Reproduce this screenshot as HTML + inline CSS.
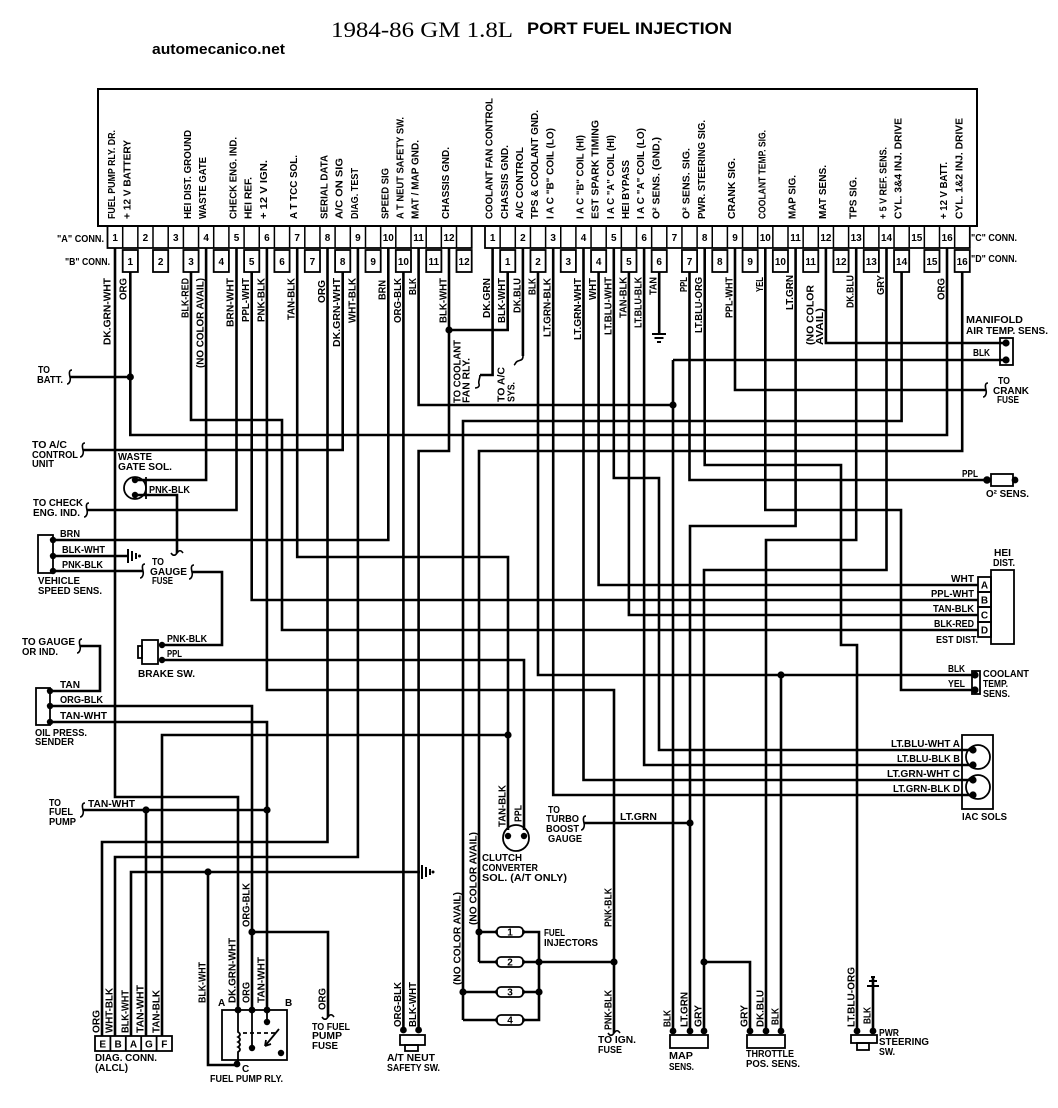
<!DOCTYPE html>
<html><head><meta charset="utf-8">
<style>
html,body{margin:0;padding:0;background:#fff;}
svg{display:block;}
text{font-family:"Liberation Sans",sans-serif;font-weight:bold;fill:#000;font-size:10px;}
.v{font-size:10.5px;}
.w{stroke:#000;stroke-width:2.6;fill:none;stroke-linejoin:miter;stroke-linecap:butt;}
.t{stroke:#000;stroke-width:1.6;fill:none;}
.b{stroke:#000;stroke-width:1.8;fill:#fff;}
.n{font-size:10px;text-anchor:middle;}
</style></head><body>
<svg width="1058" height="1108" viewBox="0 0 1058 1108" xmlns="http://www.w3.org/2000/svg">
<rect x="0" y="0" width="1058" height="1108" fill="#fff"/>

<!-- Titles -->
<text x="331" y="37" style="font-family:'Liberation Serif',serif;font-weight:normal;font-size:22px" textLength="182" lengthAdjust="spacingAndGlyphs">1984-86 GM 1.8L</text>
<text x="527" y="34" style="font-size:17px" textLength="205" lengthAdjust="spacingAndGlyphs">PORT FUEL INJECTION</text>
<text x="152" y="54" style="font-size:15px" textLength="133" lengthAdjust="spacingAndGlyphs">automecanico.net</text>

<!-- ECM box -->
<rect x="98" y="89" width="879" height="137" fill="none" stroke="#000" stroke-width="2"/>

<!-- Top labels -->
<g class="v">
<text transform="translate(115,219) rotate(-90)" textLength="89" lengthAdjust="spacingAndGlyphs">FUEL PUMP RLY. DR.</text>
<text transform="translate(130.5,219) rotate(-90)" textLength="79" lengthAdjust="spacingAndGlyphs">+ 12 V BATTERY</text>
<text transform="translate(191,219) rotate(-90)" textLength="89" lengthAdjust="spacingAndGlyphs">HEI DIST. GROUND</text>
<text transform="translate(206.2,219) rotate(-90)" textLength="62" lengthAdjust="spacingAndGlyphs">WASTE GATE</text>
<text transform="translate(236.5,219) rotate(-90)" textLength="82" lengthAdjust="spacingAndGlyphs">CHECK ENG. IND.</text>
<text transform="translate(251.7,219) rotate(-90)" textLength="42" lengthAdjust="spacingAndGlyphs">HEI REF.</text>
<text transform="translate(267,219) rotate(-90)" textLength="59" lengthAdjust="spacingAndGlyphs">+ 12 V IGN.</text>
<text transform="translate(297.2,219) rotate(-90)" textLength="64" lengthAdjust="spacingAndGlyphs">A  T TCC SOL.</text>
<text transform="translate(327.5,219) rotate(-90)" textLength="64" lengthAdjust="spacingAndGlyphs">SERIAL DATA</text>
<text transform="translate(342.7,219) rotate(-90)" textLength="61" lengthAdjust="spacingAndGlyphs">A/C ON SIG</text>
<text transform="translate(358,219) rotate(-90)" textLength="51" lengthAdjust="spacingAndGlyphs">DIAG. TEST</text>
<text transform="translate(388.3,219) rotate(-90)" textLength="51" lengthAdjust="spacingAndGlyphs">SPEED SIG</text>
<text transform="translate(403.5,219) rotate(-90)" textLength="102" lengthAdjust="spacingAndGlyphs">A  T NEUT SAFETY SW.</text>
<text transform="translate(418.7,219) rotate(-90)" textLength="79" lengthAdjust="spacingAndGlyphs">MAT / MAP GND.</text>
<text transform="translate(449,219) rotate(-90)" textLength="72" lengthAdjust="spacingAndGlyphs">CHASSIS GND.</text>
<text transform="translate(492.7,219) rotate(-90)" textLength="121" lengthAdjust="spacingAndGlyphs">COOLANT FAN CONTROL</text>
<text transform="translate(507.8,219) rotate(-90)" textLength="74" lengthAdjust="spacingAndGlyphs">CHASSIS GND.</text>
<text transform="translate(523,219) rotate(-90)" textLength="72" lengthAdjust="spacingAndGlyphs">A/C CONTROL</text>
<text transform="translate(538.1,219) rotate(-90)" textLength="109" lengthAdjust="spacingAndGlyphs">TPS &amp; COOLANT GND.</text>
<text transform="translate(553.3,219) rotate(-90)" textLength="91" lengthAdjust="spacingAndGlyphs">I A C "B" COIL (LO)</text>
<text transform="translate(583.6,219) rotate(-90)" textLength="84" lengthAdjust="spacingAndGlyphs">I A C "B" COIL (HI)</text>
<text transform="translate(598.7,219) rotate(-90)" textLength="99" lengthAdjust="spacingAndGlyphs">EST SPARK TIMING</text>
<text transform="translate(613.9,219) rotate(-90)" textLength="84" lengthAdjust="spacingAndGlyphs">I A C "A" COIL (HI)</text>
<text transform="translate(629,219) rotate(-90)" textLength="59" lengthAdjust="spacingAndGlyphs">HEI BYPASS</text>
<text transform="translate(644.2,219) rotate(-90)" textLength="91" lengthAdjust="spacingAndGlyphs">I A C "A" COIL (LO)</text>
<text transform="translate(659.3,219) rotate(-90)" textLength="82" lengthAdjust="spacingAndGlyphs">O² SENS. (GND.)</text>
<text transform="translate(689.6,219) rotate(-90)" textLength="71" lengthAdjust="spacingAndGlyphs">O² SENS. SIG.</text>
<text transform="translate(704.8,219) rotate(-90)" textLength="99" lengthAdjust="spacingAndGlyphs">PWR. STEERING SIG.</text>
<text transform="translate(735.1,219) rotate(-90)" textLength="61" lengthAdjust="spacingAndGlyphs">CRANK SIG.</text>
<text transform="translate(765.4,219) rotate(-90)" textLength="89" lengthAdjust="spacingAndGlyphs">COOLANT TEMP. SIG.</text>
<text transform="translate(795.7,219) rotate(-90)" textLength="44" lengthAdjust="spacingAndGlyphs">MAP SIG.</text>
<text transform="translate(826,219) rotate(-90)" textLength="54" lengthAdjust="spacingAndGlyphs">MAT SENS.</text>
<text transform="translate(856.3,219) rotate(-90)" textLength="42" lengthAdjust="spacingAndGlyphs">TPS SIG.</text>
<text transform="translate(886.6,219) rotate(-90)" textLength="72" lengthAdjust="spacingAndGlyphs">+ 5 V REF. SENS.</text>
<text transform="translate(901.7,219) rotate(-90)" textLength="101" lengthAdjust="spacingAndGlyphs">CYL. 3&amp;4 INJ. DRIVE</text>
<text transform="translate(947.2,219) rotate(-90)" textLength="57" lengthAdjust="spacingAndGlyphs">+ 12 V BATT.</text>
<text transform="translate(962.3,219) rotate(-90)" textLength="101" lengthAdjust="spacingAndGlyphs">CYL. 1&amp;2 INJ. DRIVE</text>
</g>

<!-- Connector A row (left) -->
<rect x="107.5" y="226" width="364.2" height="22" fill="none" stroke="#000" stroke-width="1.8"/>
<path stroke="#000" stroke-width="1.5" d="M122.7 226V248M137.85 226V248M153 226V248M168.2 226V248M183.4 226V248M198.55 226V248M213.7 226V248M228.9 226V248M244.1 226V248M259.25 226V248M274.4 226V248M289.6 226V248M304.8 226V248M319.95 226V248M335.1 226V248M350.3 226V248M365.5 226V248M380.65 226V248M395.8 226V248M411 226V248M426.2 226V248M441.35 226V248M456.5 226V248"/>
<g class="n">
<text x="115.1" y="241">1</text><text x="145.4" y="241">2</text><text x="175.8" y="241">3</text><text x="206.1" y="241">4</text><text x="236.5" y="241">5</text><text x="266.9" y="241">6</text><text x="297.2" y="241">7</text><text x="327.5" y="241">8</text><text x="357.9" y="241">9</text><text x="388.3" y="241">10</text><text x="418.6" y="241">11</text><text x="449" y="241">12</text>
</g>
<!-- B boxes -->
<g class="b">
<rect x="122.7" y="250" width="15.2" height="22"/><rect x="153" y="250" width="15.2" height="22"/><rect x="183.4" y="250" width="15.2" height="22"/><rect x="213.7" y="250" width="15.2" height="22"/><rect x="244.1" y="250" width="15.2" height="22"/><rect x="274.4" y="250" width="15.2" height="22"/><rect x="304.8" y="250" width="15.2" height="22"/><rect x="335.1" y="250" width="15.2" height="22"/><rect x="365.5" y="250" width="15.2" height="22"/><rect x="395.8" y="250" width="15.2" height="22"/><rect x="426.2" y="250" width="15.2" height="22"/><rect x="456.5" y="250" width="15.2" height="22"/>
</g>
<g class="n">
<text x="130.3" y="265">1</text><text x="160.6" y="265">2</text><text x="191" y="265">3</text><text x="221.3" y="265">4</text><text x="251.7" y="265">5</text><text x="282" y="265">6</text><text x="312.4" y="265">7</text><text x="342.7" y="265">8</text><text x="373.1" y="265">9</text><text x="403.4" y="265">10</text><text x="433.8" y="265">11</text><text x="464.1" y="265">12</text>
</g>

<!-- Connector C row (right) -->
<rect x="485" y="226" width="484.8" height="22" fill="none" stroke="#000" stroke-width="1.8"/>
<path stroke="#000" stroke-width="1.5" d="M500.15 226V248M515.3 226V248M530.45 226V248M545.6 226V248M560.75 226V248M575.9 226V248M591.05 226V248M606.2 226V248M621.35 226V248M636.5 226V248M651.65 226V248M666.8 226V248M681.95 226V248M697.1 226V248M712.25 226V248M727.4 226V248M742.55 226V248M757.7 226V248M772.85 226V248M788 226V248M803.15 226V248M818.3 226V248M833.45 226V248M848.6 226V248M863.75 226V248M878.9 226V248M894.05 226V248M909.2 226V248M924.35 226V248M939.5 226V248M954.65 226V248"/>
<g class="n">
<text x="492.6" y="241">1</text><text x="522.9" y="241">2</text><text x="553.2" y="241">3</text><text x="583.5" y="241">4</text><text x="613.8" y="241">5</text><text x="644.1" y="241">6</text><text x="674.4" y="241">7</text><text x="704.7" y="241">8</text><text x="735" y="241">9</text><text x="765.3" y="241">10</text><text x="795.6" y="241">11</text><text x="825.9" y="241">12</text><text x="856.2" y="241">13</text><text x="886.5" y="241">14</text><text x="916.8" y="241">15</text><text x="947.1" y="241">16</text>
</g>
<g class="b">
<rect x="500.15" y="250" width="15.15" height="22"/><rect x="530.45" y="250" width="15.15" height="22"/><rect x="560.75" y="250" width="15.15" height="22"/><rect x="591.05" y="250" width="15.15" height="22"/><rect x="621.35" y="250" width="15.15" height="22"/><rect x="651.65" y="250" width="15.15" height="22"/><rect x="681.95" y="250" width="15.15" height="22"/><rect x="712.25" y="250" width="15.15" height="22"/><rect x="742.55" y="250" width="15.15" height="22"/><rect x="772.85" y="250" width="15.15" height="22"/><rect x="803.15" y="250" width="15.15" height="22"/><rect x="833.45" y="250" width="15.15" height="22"/><rect x="863.75" y="250" width="15.15" height="22"/><rect x="894.05" y="250" width="15.15" height="22"/><rect x="924.35" y="250" width="15.15" height="22"/><rect x="954.65" y="250" width="15.15" height="22"/>
</g>
<g class="n">
<text x="507.7" y="265">1</text><text x="538" y="265">2</text><text x="568.3" y="265">3</text><text x="598.6" y="265">4</text><text x="628.9" y="265">5</text><text x="659.2" y="265">6</text><text x="689.5" y="265">7</text><text x="719.8" y="265">8</text><text x="750.1" y="265">9</text><text x="780.4" y="265">10</text><text x="810.7" y="265">11</text><text x="841" y="265">12</text><text x="871.3" y="265">13</text><text x="901.6" y="265">14</text><text x="931.9" y="265">15</text><text x="962.2" y="265">16</text>
</g>

<text x="57" y="242" textLength="47" lengthAdjust="spacingAndGlyphs">"A" CONN.</text>
<text x="65" y="265" textLength="45" lengthAdjust="spacingAndGlyphs">"B" CONN.</text>
<text x="971" y="241" textLength="46" lengthAdjust="spacingAndGlyphs">"C" CONN.</text>
<text x="971" y="262" textLength="46" lengthAdjust="spacingAndGlyphs">"D" CONN.</text>

<!-- WIRES -->
<g class="w">
<path d="M115 248V797H238V1010"/>
<path d="M130.3 272V435H947V248"/>
<path d="M70 377H130.3"/>
<path d="M191 272V420H282V630H978"/>
<path d="M206.1 248V480H137"/>
<path d="M236.5 248V510H87"/>
<path d="M251.7 272V600H978"/>
<path d="M266.9 248V690H614V1033"/>
<path d="M297.2 248V557H508V830"/>
<path d="M162 1036V735H508"/>
<path d="M327.5 248V842H102V1036"/>
<path d="M342.7 272V450H83"/>
<path d="M357.9 248V857H115V1036"/>
<path d="M388.3 248V540H53"/>
<path d="M403.4 272V1030"/>
<path d="M418.6 248V405H673"/>
<path d="M449 248V451H418.6V1030"/>
<path d="M131 1036V872H420"/>
<path d="M208 872V1065H238"/>
<path d="M83 810H267"/>
<path d="M146 810V1036"/>
<path d="M50 722H267V1010"/>
<path d="M50 706H252V1010"/>
<path d="M50 691H100V646H80"/>
<path d="M252 932H328V1017"/>
<path d="M53 556H127"/>
<path d="M53 571H143"/>
<path d="M137 495H177V553"/>
<path d="M162 645H222V572H192"/>
<path d="M162 660H524V830"/>

<path d="M492.6 248V375H480"/>
<path d="M507.7 272V330H449"/>
<path d="M522.9 248V356"/>
<path d="M538 272V675H972"/>
<path d="M781 675V1031"/>
<path d="M553.2 248V795H973"/>
<path d="M583.5 248V780H973"/>
<path d="M598.6 272V585H978"/>
<path d="M613.8 248V478H659V750H973"/>
<path d="M628.9 272V615H978"/>
<path d="M644.1 248V765H973"/>
<path d="M659.2 272V333"/>
<path d="M673 360V1031M673 360H1003"/>
<path d="M689.5 272V480H987"/>
<path d="M704.7 248V465H841V645H857V1031"/>
<path d="M735 248V390H986"/>
<path d="M765.3 248V510H901V690H972"/>
<path d="M795.6 248V526H690V1031"/>
<path d="M584 823H690"/>
<path d="M825.9 248V343H1003"/>
<path d="M856.2 248V540H766V1031"/>
<path d="M886.5 248V570H704V1031"/>
<path d="M704 962H750V1031"/>
<path d="M901.6 272V421H463V1020"/>
<path d="M962.2 272V451H479V962"/>
<path d="M479 932H497M479 962H497M463 992H497M463 1020H497"/>
<path d="M523 932H539V1020H523M523 962H539M523 992H539M539 962H614"/>
<path d="M873 976V1031"/>
</g>

<!-- dots -->
<g fill="#000">
<circle cx="130.3" cy="377" r="3.6"/><circle cx="449" cy="330" r="3.6"/><circle cx="673" cy="405" r="3.6"/>
<circle cx="508" cy="735" r="3.6"/><circle cx="146" cy="810" r="3.6"/><circle cx="267" cy="810" r="3.6"/>
<circle cx="208" cy="872" r="3.6"/><circle cx="252" cy="932" r="3.6"/><circle cx="781" cy="675" r="3.6"/>
<circle cx="690" cy="823" r="3.6"/><circle cx="704" cy="962" r="3.6"/><circle cx="614" cy="962" r="3.6"/>
<circle cx="479" cy="932" r="3.6"/><circle cx="463" cy="992" r="3.6"/><circle cx="539" cy="962" r="3.6"/><circle cx="539" cy="992" r="3.6"/>
<!-- connector pin dots -->
<circle cx="135" cy="480" r="3.2"/><circle cx="135" cy="495" r="3.2"/>
<circle cx="53" cy="540" r="3.2"/><circle cx="53" cy="556" r="3.2"/><circle cx="53" cy="571" r="3.2"/>
<circle cx="50" cy="691" r="3.2"/><circle cx="50" cy="706" r="3.2"/><circle cx="50" cy="722" r="3.2"/>
<circle cx="162" cy="645" r="3.2"/><circle cx="162" cy="660" r="3.2"/>
<circle cx="238" cy="1010" r="3.4"/><circle cx="252" cy="1010" r="3.4"/><circle cx="267" cy="1010" r="3.4"/><circle cx="237" cy="1064" r="3.4"/>
<circle cx="403.4" cy="1030" r="3.4"/><circle cx="418.6" cy="1030" r="3.4"/>
<circle cx="508" cy="836" r="3.2"/><circle cx="524" cy="836" r="3.2"/>
<circle cx="673" cy="1031" r="3.4"/><circle cx="690" cy="1031" r="3.4"/><circle cx="704" cy="1031" r="3.4"/>
<circle cx="750" cy="1031" r="3.4"/><circle cx="766" cy="1031" r="3.4"/><circle cx="781" cy="1031" r="3.4"/>
<circle cx="857" cy="1031" r="3.4"/><circle cx="873" cy="1031" r="3.4"/>
<circle cx="1006" cy="343" r="3.6"/><circle cx="1006" cy="360" r="3.6"/>
<circle cx="987" cy="480" r="3.8"/><circle cx="1015" cy="480" r="3.4"/>
<circle cx="975" cy="675" r="3.6"/><circle cx="975" cy="690" r="3.6"/>
<circle cx="973" cy="750" r="3.6"/><circle cx="973" cy="765" r="3.6"/><circle cx="973" cy="780" r="3.6"/><circle cx="973" cy="795" r="3.6"/>
<circle cx="498" cy="932" r="3"/><circle cx="522" cy="932" r="3"/><circle cx="498" cy="962" r="3"/><circle cx="522" cy="962" r="3"/>
<circle cx="498" cy="992" r="3"/><circle cx="522" cy="992" r="3"/><circle cx="498" cy="1020" r="3"/><circle cx="522" cy="1020" r="3"/>
</g>

<!-- break symbols -->
<g class="t" stroke-width="1.8">
<path d="M72 370c-3 0-3 3-2 7s-1 7-3 7"/>
<path d="M85 443c-3 0-3 3-2 7s-1 7-3 7"/>
<path d="M89 503c-3 0-3 3-2 7s-1 7-3 7"/>
<path d="M145 564c-3 0-3 3-2 7s-1 7-3 7"/>
<path d="M194 565c-3 0-3 3-2 7s-1 7-3 7"/>
<path d="M82 639c-3 0-3 3-2 7s-1 7-3 7"/>
<path d="M85 803c-3 0-3 3-2 7s-1 7-3 7"/>
<path d="M988 383c-3 0-3 3-2 7s-1 7-3 7"/>
<path d="M586 816c-3 0-3 3-2 7s-1 7-3 7"/>
<path d="M480 375c0 4-2 6-1 9s-2 4-4 4"/>
<path d="M523 356c0 4-2 4-5 5s-2 3-4 4"/>
<path d="M171 553c2 3 4 3 6 0s4-3 6 0"/>
<path d="M322 1017c2 3 4 3 6 0s4-3 6 0"/>
<path d="M608 1033c2 3 4 3 6 0s4-3 6 0"/>
</g>

<!-- ground symbols -->
<g stroke="#000" stroke-width="2" fill="none">
<path d="M128 549V563M132 551V561M136 553V559"/>
<path d="M422 865V879M426 867V877M430 869V875"/>
<path d="M652 334H666M654.5 338H663.5M657 342H661"/>
<path d="M867 986H879M869 981H877M871 977H875"/>
</g>
<circle cx="139.5" cy="556" r="1.5" fill="#000"/><circle cx="433" cy="872" r="1.5" fill="#000"/>

<!-- components -->
<g stroke="#000" stroke-width="1.8" fill="none">
<circle cx="135" cy="488" r="11"/><path d="M146 477V499"/>
<rect x="38" y="535" width="15" height="38"/>
<rect x="36" y="688" width="14" height="37"/>
<rect x="142" y="640" width="16" height="24"/><rect x="138" y="646" width="4" height="12"/>
<rect x="222" y="1010" width="65" height="50"/>
<rect x="95" y="1036" width="77" height="15"/>
<path d="M110.4 1036V1051M125.8 1036V1051M141.2 1036V1051M156.6 1036V1051"/>
<rect x="400" y="1035" width="25" height="10"/><rect x="405" y="1045" width="13" height="6"/>
<circle cx="516" cy="838" r="13"/>
<rect x="670" y="1035" width="38" height="13"/>
<rect x="747" y="1035" width="38" height="13"/>
<rect x="851" y="1035" width="26" height="8"/><rect x="857" y="1043" width="12" height="7"/>
<rect x="1000" y="338" width="13" height="27"/>
<rect x="991" y="474" width="22" height="12"/>
<rect x="978" y="577" width="13" height="15"/><rect x="978" y="592" width="13" height="15"/><rect x="978" y="607" width="13" height="15"/><rect x="978" y="622" width="13" height="15"/>
<rect x="991" y="570" width="23" height="74"/>
<rect x="972" y="671" width="8" height="23"/>
<rect x="962" y="735" width="31" height="74"/>
<circle cx="978" cy="757" r="12"/><circle cx="978" cy="787" r="12"/>
</g>
<!-- injectors -->
<g stroke="#000" stroke-width="1.8" fill="#fff">
<rect x="497" y="927" width="26" height="10" rx="4"/>
<rect x="497" y="957" width="26" height="10" rx="4"/>
<rect x="497" y="987" width="26" height="10" rx="4"/>
<rect x="497" y="1015" width="26" height="10" rx="4"/>
</g>
<g class="n" style="font-size:9px">
<text x="510" y="935.5">1</text><text x="510" y="965.5">2</text><text x="510" y="995.5">3</text><text x="510" y="1023.5">4</text>
</g>
<!-- relay interior -->
<g stroke="#000" stroke-width="1.8" fill="none">
<path d="M238 1010V1032q4 2.5 0 5q4 2.5 0 5q4 2.5 0 5q4 2.5 0 5V1063"/>
<path d="M252 1010V1048M267 1010V1022"/>
<path d="M243 1033H278" stroke-dasharray="4 3"/>
<path d="M279 1029L265 1046M265 1046l1-6M265 1046l6-2"/>
</g>
<g fill="#000"><circle cx="252" cy="1048" r="3.2"/><circle cx="267" cy="1022" r="3.2"/><circle cx="281" cy="1053" r="3.2"/></g>
<!-- diag letters -->
<g class="n"><text x="102.7" y="1047.5">E</text><text x="118.1" y="1047.5">B</text><text x="133.5" y="1047.5">A</text><text x="148.9" y="1047.5">G</text><text x="164.3" y="1047.5">F</text></g>
<!-- HEI letters -->
<g class="n"><text x="984.5" y="588.5">A</text><text x="984.5" y="603.5">B</text><text x="984.5" y="618.5">C</text><text x="984.5" y="633.5">D</text></g>

<!-- Vertical wire labels -->
<g class="v">
<text transform="translate(110.7,345) rotate(-90)" textLength="67" lengthAdjust="spacingAndGlyphs">DK.GRN-WHT</text>
<text transform="translate(126.7,300) rotate(-90)" textLength="22" lengthAdjust="spacingAndGlyphs">ORG</text>
<text transform="translate(188.5,318) rotate(-90)" textLength="40" lengthAdjust="spacingAndGlyphs">BLK-RED</text>
<text transform="translate(203.5,368) rotate(-90)" textLength="90" lengthAdjust="spacingAndGlyphs">(NO COLOR AVAIL)</text>
<text transform="translate(233.5,327) rotate(-90)" textLength="49" lengthAdjust="spacingAndGlyphs">BRN-WHT</text>
<text transform="translate(249,322) rotate(-90)" textLength="44" lengthAdjust="spacingAndGlyphs">PPL-WHT</text>
<text transform="translate(264.5,322) rotate(-90)" textLength="44" lengthAdjust="spacingAndGlyphs">PNK-BLK</text>
<text transform="translate(294.5,320) rotate(-90)" textLength="42" lengthAdjust="spacingAndGlyphs">TAN-BLK</text>
<text transform="translate(325,303) rotate(-90)" textLength="23" lengthAdjust="spacingAndGlyphs">ORG</text>
<text transform="translate(340.2,347) rotate(-90)" textLength="69" lengthAdjust="spacingAndGlyphs">DK.GRN-WHT</text>
<text transform="translate(355.5,323) rotate(-90)" textLength="45" lengthAdjust="spacingAndGlyphs">WHT-BLK</text>
<text transform="translate(385.5,300) rotate(-90)" textLength="20" lengthAdjust="spacingAndGlyphs">BRN</text>
<text transform="translate(400.9,323) rotate(-90)" textLength="45" lengthAdjust="spacingAndGlyphs">ORG-BLK</text>
<text transform="translate(416,295) rotate(-90)" textLength="17" lengthAdjust="spacingAndGlyphs">BLK</text>
<text transform="translate(446.5,323) rotate(-90)" textLength="45" lengthAdjust="spacingAndGlyphs">BLK-WHT</text>
<text transform="translate(460.7,403) rotate(-90)" textLength="63" lengthAdjust="spacingAndGlyphs">TO COOLANT</text>
<text transform="translate(469.7,403) rotate(-90)" textLength="45" lengthAdjust="spacingAndGlyphs">FAN RLY.</text>
<text transform="translate(490,318) rotate(-90)" textLength="40" lengthAdjust="spacingAndGlyphs">DK.GRN</text>
<text transform="translate(505.2,323) rotate(-90)" textLength="45" lengthAdjust="spacingAndGlyphs">BLK-WHT</text>
<text transform="translate(504.7,402) rotate(-90)" textLength="35" lengthAdjust="spacingAndGlyphs">TO A/C</text>
<text transform="translate(514.7,402) rotate(-90)" textLength="20" lengthAdjust="spacingAndGlyphs">SYS.</text>
<text transform="translate(520.5,313) rotate(-90)" textLength="35" lengthAdjust="spacingAndGlyphs">DK.BLU</text>
<text transform="translate(535.5,295) rotate(-90)" textLength="17" lengthAdjust="spacingAndGlyphs">BLK</text>
<text transform="translate(550.5,337) rotate(-90)" textLength="59" lengthAdjust="spacingAndGlyphs">LT.GRN-BLK</text>
<text transform="translate(581,340) rotate(-90)" textLength="62" lengthAdjust="spacingAndGlyphs">LT.GRN-WHT</text>
<text transform="translate(596,300) rotate(-90)" textLength="22" lengthAdjust="spacingAndGlyphs">WHT</text>
<text transform="translate(611.3,335) rotate(-90)" textLength="58" lengthAdjust="spacingAndGlyphs">LT.BLU-WHT</text>
<text transform="translate(626.5,318) rotate(-90)" textLength="41" lengthAdjust="spacingAndGlyphs">TAN-BLK</text>
<text transform="translate(641.5,328) rotate(-90)" textLength="51" lengthAdjust="spacingAndGlyphs">LT.BLU-BLK</text>
<text transform="translate(656.5,295) rotate(-90)" textLength="18" lengthAdjust="spacingAndGlyphs">TAN</text>
<text transform="translate(687,292) rotate(-90)" textLength="15" lengthAdjust="spacingAndGlyphs">PPL</text>
<text transform="translate(702.2,333) rotate(-90)" textLength="56" lengthAdjust="spacingAndGlyphs">LT.BLU-ORG</text>
<text transform="translate(732.5,318) rotate(-90)" textLength="41" lengthAdjust="spacingAndGlyphs">PPL-WHT</text>
<text transform="translate(762.8,292) rotate(-90)" textLength="15" lengthAdjust="spacingAndGlyphs">YEL</text>
<text transform="translate(793,310) rotate(-90)" textLength="35" lengthAdjust="spacingAndGlyphs">LT.GRN</text>
<text transform="translate(813.5,345) rotate(-90)" textLength="60" lengthAdjust="spacingAndGlyphs">(NO COLOR</text>
<text transform="translate(823,345) rotate(-90)" textLength="37" lengthAdjust="spacingAndGlyphs">AVAIL)</text>
<text transform="translate(853.5,308) rotate(-90)" textLength="33" lengthAdjust="spacingAndGlyphs">DK.BLU</text>
<text transform="translate(884,295) rotate(-90)" textLength="20" lengthAdjust="spacingAndGlyphs">GRY</text>
<text transform="translate(944.5,300) rotate(-90)" textLength="22" lengthAdjust="spacingAndGlyphs">ORG</text>

<text transform="translate(99.5,1033) rotate(-90)" textLength="23" lengthAdjust="spacingAndGlyphs">ORG</text>
<text transform="translate(112.5,1033) rotate(-90)" textLength="45" lengthAdjust="spacingAndGlyphs">WHT-BLK</text>
<text transform="translate(128.5,1033) rotate(-90)" textLength="43" lengthAdjust="spacingAndGlyphs">BLK-WHT</text>
<text transform="translate(143.5,1033) rotate(-90)" textLength="48" lengthAdjust="spacingAndGlyphs">TAN-WHT</text>
<text transform="translate(159.5,1033) rotate(-90)" textLength="43" lengthAdjust="spacingAndGlyphs">TAN-BLK</text>
<text transform="translate(205.5,1003) rotate(-90)" textLength="41" lengthAdjust="spacingAndGlyphs">BLK-WHT</text>
<text transform="translate(235.5,1003) rotate(-90)" textLength="65" lengthAdjust="spacingAndGlyphs">DK.GRN-WHT</text>
<text transform="translate(249.5,1003) rotate(-90)" textLength="21" lengthAdjust="spacingAndGlyphs">ORG</text>
<text transform="translate(264.5,1003) rotate(-90)" textLength="46" lengthAdjust="spacingAndGlyphs">TAN-WHT</text>
<text transform="translate(249.5,927) rotate(-90)" textLength="44" lengthAdjust="spacingAndGlyphs">ORG-BLK</text>
<text transform="translate(325.5,1010) rotate(-90)" textLength="22" lengthAdjust="spacingAndGlyphs">ORG</text>
<text transform="translate(400.9,1027) rotate(-90)" textLength="45" lengthAdjust="spacingAndGlyphs">ORG-BLK</text>
<text transform="translate(416,1027) rotate(-90)" textLength="45" lengthAdjust="spacingAndGlyphs">BLK-WHT</text>
<text transform="translate(460.5,985) rotate(-90)" textLength="93" lengthAdjust="spacingAndGlyphs">(NO COLOR AVAIL)</text>
<text transform="translate(476.5,925) rotate(-90)" textLength="93" lengthAdjust="spacingAndGlyphs">(NO COLOR AVAIL)</text>
<text transform="translate(505.5,827) rotate(-90)" textLength="42" lengthAdjust="spacingAndGlyphs">TAN-BLK</text>
<text transform="translate(521.5,822) rotate(-90)" textLength="17" lengthAdjust="spacingAndGlyphs">PPL</text>
<text transform="translate(611.5,927) rotate(-90)" textLength="39" lengthAdjust="spacingAndGlyphs">PNK-BLK</text>
<text transform="translate(611.5,1030) rotate(-90)" textLength="40" lengthAdjust="spacingAndGlyphs">PNK-BLK</text>
<text transform="translate(670.5,1027) rotate(-90)" textLength="17" lengthAdjust="spacingAndGlyphs">BLK</text>
<text transform="translate(687.5,1027) rotate(-90)" textLength="35" lengthAdjust="spacingAndGlyphs">LT.GRN</text>
<text transform="translate(701.5,1027) rotate(-90)" textLength="22" lengthAdjust="spacingAndGlyphs">GRY</text>
<text transform="translate(747.5,1027) rotate(-90)" textLength="22" lengthAdjust="spacingAndGlyphs">GRY</text>
<text transform="translate(763.5,1027) rotate(-90)" textLength="37" lengthAdjust="spacingAndGlyphs">DK.BLU</text>
<text transform="translate(778.5,1025) rotate(-90)" textLength="17" lengthAdjust="spacingAndGlyphs">BLK</text>
<text transform="translate(854.5,1027) rotate(-90)" textLength="60" lengthAdjust="spacingAndGlyphs">LT.BLU-ORG</text>
<text transform="translate(870.5,1024) rotate(-90)" textLength="17" lengthAdjust="spacingAndGlyphs">BLK</text>
</g>

<!-- Horizontal labels -->
<g>
<text x="38" y="373" textLength="12" lengthAdjust="spacingAndGlyphs">TO</text>
<text x="37" y="383" textLength="26" lengthAdjust="spacingAndGlyphs">BATT.</text>
<text x="32" y="448" textLength="35" lengthAdjust="spacingAndGlyphs">TO A/C</text>
<text x="32" y="458" textLength="46" lengthAdjust="spacingAndGlyphs">CONTROL</text>
<text x="32" y="467" textLength="22" lengthAdjust="spacingAndGlyphs">UNIT</text>
<text x="118" y="460" textLength="34" lengthAdjust="spacingAndGlyphs">WASTE</text>
<text x="118" y="470" textLength="54" lengthAdjust="spacingAndGlyphs">GATE SOL.</text>
<text x="149" y="493" textLength="41" lengthAdjust="spacingAndGlyphs">PNK-BLK</text>
<text x="33" y="506" textLength="50" lengthAdjust="spacingAndGlyphs">TO CHECK</text>
<text x="33" y="516" textLength="47" lengthAdjust="spacingAndGlyphs">ENG. IND.</text>
<text x="60" y="537" textLength="20" lengthAdjust="spacingAndGlyphs">BRN</text>
<text x="62" y="553" textLength="43" lengthAdjust="spacingAndGlyphs">BLK-WHT</text>
<text x="62" y="568" textLength="41" lengthAdjust="spacingAndGlyphs">PNK-BLK</text>
<text x="38" y="584" textLength="42" lengthAdjust="spacingAndGlyphs">VEHICLE</text>
<text x="38" y="594" textLength="64" lengthAdjust="spacingAndGlyphs">SPEED SENS.</text>
<text x="152" y="565" textLength="12" lengthAdjust="spacingAndGlyphs">TO</text>
<text x="150" y="575" textLength="37" lengthAdjust="spacingAndGlyphs">GAUGE</text>
<text x="152" y="584" textLength="21" lengthAdjust="spacingAndGlyphs">FUSE</text>
<text x="22" y="645" textLength="53" lengthAdjust="spacingAndGlyphs">TO GAUGE</text>
<text x="22" y="655" textLength="36" lengthAdjust="spacingAndGlyphs">OR IND.</text>
<text x="60" y="688" textLength="20" lengthAdjust="spacingAndGlyphs">TAN</text>
<text x="60" y="703" textLength="43" lengthAdjust="spacingAndGlyphs">ORG-BLK</text>
<text x="60" y="719" textLength="47" lengthAdjust="spacingAndGlyphs">TAN-WHT</text>
<text x="35" y="736" textLength="52" lengthAdjust="spacingAndGlyphs">OIL PRESS.</text>
<text x="35" y="745" textLength="39" lengthAdjust="spacingAndGlyphs">SENDER</text>
<text x="167" y="642" textLength="40" lengthAdjust="spacingAndGlyphs">PNK-BLK</text>
<text x="167" y="657" textLength="15" lengthAdjust="spacingAndGlyphs">PPL</text>
<text x="138" y="677" textLength="57" lengthAdjust="spacingAndGlyphs">BRAKE SW.</text>
<text x="49" y="806" textLength="12" lengthAdjust="spacingAndGlyphs">TO</text>
<text x="49" y="815" textLength="24" lengthAdjust="spacingAndGlyphs">FUEL</text>
<text x="49" y="825" textLength="27" lengthAdjust="spacingAndGlyphs">PUMP</text>
<text x="88" y="807" textLength="47" lengthAdjust="spacingAndGlyphs">TAN-WHT</text>
<text x="95" y="1061" textLength="62" lengthAdjust="spacingAndGlyphs">DIAG. CONN.</text>
<text x="95" y="1071" textLength="33" lengthAdjust="spacingAndGlyphs">(ALCL)</text>
<text x="218" y="1006">A</text>
<text x="285" y="1006">B</text>
<text x="242" y="1072">C</text>
<text x="210" y="1082" textLength="73" lengthAdjust="spacingAndGlyphs">FUEL PUMP RLY.</text>
<text x="312" y="1030" textLength="38" lengthAdjust="spacingAndGlyphs">TO FUEL</text>
<text x="312" y="1039" textLength="30" lengthAdjust="spacingAndGlyphs">PUMP</text>
<text x="312" y="1049" textLength="26" lengthAdjust="spacingAndGlyphs">FUSE</text>
<text x="387" y="1061" textLength="48" lengthAdjust="spacingAndGlyphs">A/T NEUT</text>
<text x="387" y="1071" textLength="53" lengthAdjust="spacingAndGlyphs">SAFETY SW.</text>

<text x="966" y="323" textLength="57" lengthAdjust="spacingAndGlyphs">MANIFOLD</text>
<text x="966" y="334" textLength="82" lengthAdjust="spacingAndGlyphs">AIR TEMP. SENS.</text>
<text x="973" y="356" textLength="17" lengthAdjust="spacingAndGlyphs">BLK</text>
<text x="998" y="384" textLength="12" lengthAdjust="spacingAndGlyphs">TO</text>
<text x="993" y="394" textLength="36" lengthAdjust="spacingAndGlyphs">CRANK</text>
<text x="997" y="403" textLength="22" lengthAdjust="spacingAndGlyphs">FUSE</text>
<text x="962" y="477" textLength="16" lengthAdjust="spacingAndGlyphs">PPL</text>
<text x="986" y="497" textLength="43" lengthAdjust="spacingAndGlyphs">O² SENS.</text>
<text x="994" y="556" textLength="17" lengthAdjust="spacingAndGlyphs">HEI</text>
<text x="993" y="566" textLength="22" lengthAdjust="spacingAndGlyphs">DIST.</text>
<text x="951" y="582" textLength="23" lengthAdjust="spacingAndGlyphs">WHT</text>
<text x="931" y="597" textLength="43" lengthAdjust="spacingAndGlyphs">PPL-WHT</text>
<text x="933" y="612" textLength="41" lengthAdjust="spacingAndGlyphs">TAN-BLK</text>
<text x="934" y="627" textLength="40" lengthAdjust="spacingAndGlyphs">BLK-RED</text>
<text x="936" y="643" textLength="42" lengthAdjust="spacingAndGlyphs">EST DIST.</text>
<text x="948" y="672" textLength="17" lengthAdjust="spacingAndGlyphs">BLK</text>
<text x="948" y="687" textLength="17" lengthAdjust="spacingAndGlyphs">YEL</text>
<text x="983" y="677" textLength="46" lengthAdjust="spacingAndGlyphs">COOLANT</text>
<text x="983" y="687" textLength="25" lengthAdjust="spacingAndGlyphs">TEMP.</text>
<text x="983" y="697" textLength="27" lengthAdjust="spacingAndGlyphs">SENS.</text>
<text x="891" y="747" textLength="69" lengthAdjust="spacingAndGlyphs">LT.BLU-WHT A</text>
<text x="897" y="762" textLength="63" lengthAdjust="spacingAndGlyphs">LT.BLU-BLK B</text>
<text x="887" y="777" textLength="73" lengthAdjust="spacingAndGlyphs">LT.GRN-WHT C</text>
<text x="893" y="792" textLength="67" lengthAdjust="spacingAndGlyphs">LT.GRN-BLK D</text>
<text x="962" y="820" textLength="45" lengthAdjust="spacingAndGlyphs">IAC SOLS</text>
<text x="548" y="813" textLength="12" lengthAdjust="spacingAndGlyphs">TO</text>
<text x="546" y="822" textLength="33" lengthAdjust="spacingAndGlyphs">TURBO</text>
<text x="546" y="832" textLength="33" lengthAdjust="spacingAndGlyphs">BOOST</text>
<text x="548" y="842" textLength="34" lengthAdjust="spacingAndGlyphs">GAUGE</text>
<text x="620" y="820" textLength="37" lengthAdjust="spacingAndGlyphs">LT.GRN</text>
<text x="482" y="861" textLength="40" lengthAdjust="spacingAndGlyphs">CLUTCH</text>
<text x="482" y="871" textLength="56" lengthAdjust="spacingAndGlyphs">CONVERTER</text>
<text x="482" y="881" textLength="85" lengthAdjust="spacingAndGlyphs">SOL. (A/T ONLY)</text>
<text x="544" y="936" textLength="21" lengthAdjust="spacingAndGlyphs">FUEL</text>
<text x="544" y="946" textLength="54" lengthAdjust="spacingAndGlyphs">INJECTORS</text>
<text x="598" y="1043" textLength="38" lengthAdjust="spacingAndGlyphs">TO IGN.</text>
<text x="598" y="1053" textLength="24" lengthAdjust="spacingAndGlyphs">FUSE</text>
<text x="669" y="1059" textLength="24" lengthAdjust="spacingAndGlyphs">MAP</text>
<text x="669" y="1070" textLength="25" lengthAdjust="spacingAndGlyphs">SENS.</text>
<text x="746" y="1057" textLength="48" lengthAdjust="spacingAndGlyphs">THROTTLE</text>
<text x="746" y="1067" textLength="54" lengthAdjust="spacingAndGlyphs">POS. SENS.</text>
<text x="879" y="1036" textLength="20" lengthAdjust="spacingAndGlyphs">PWR</text>
<text x="879" y="1045" textLength="50" lengthAdjust="spacingAndGlyphs">STEERING</text>
<text x="879" y="1055" textLength="16" lengthAdjust="spacingAndGlyphs">SW.</text>
</g>
</svg>
</body></html>
